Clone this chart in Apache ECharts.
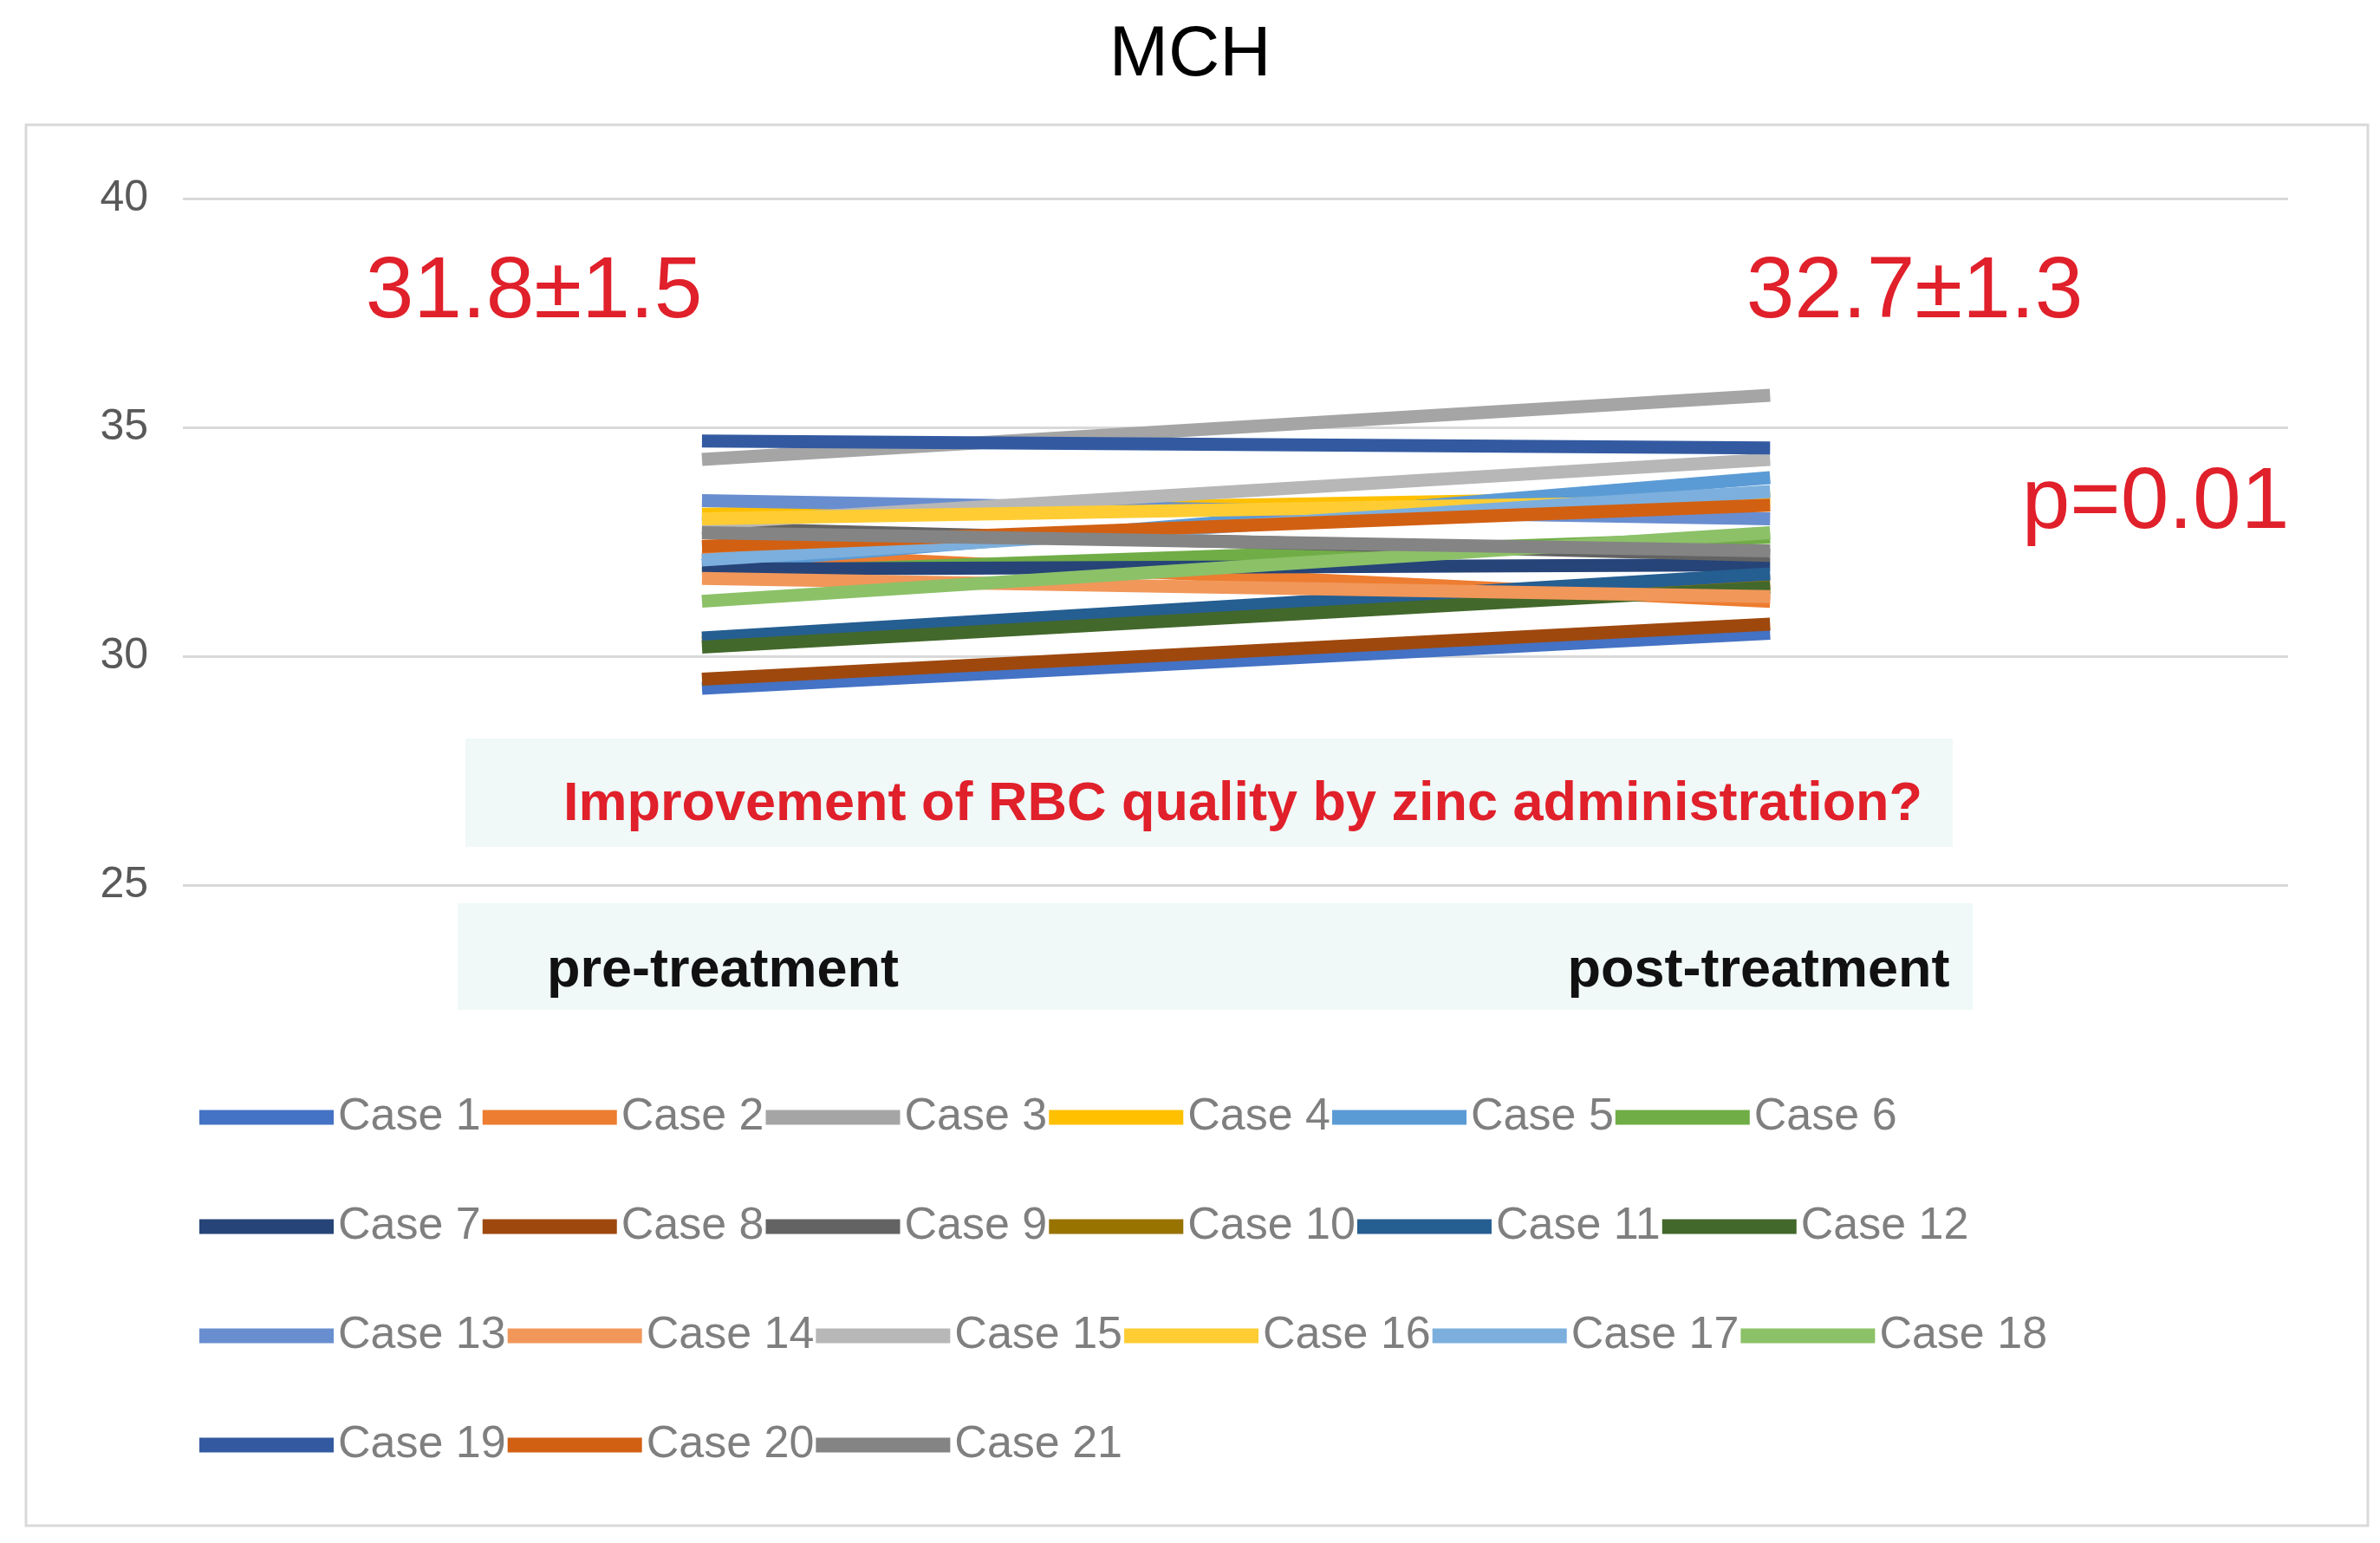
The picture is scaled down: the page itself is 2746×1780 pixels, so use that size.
<!DOCTYPE html>
<html><head><meta charset="utf-8">
<script src="https://cdn.jsdelivr.net/npm/echarts@6/dist/echarts.min.js"></script>
<style>html,body{margin:0;padding:0;background:#fff}#c{width:2746px;height:1780px}</style>
</head><body><div id="c"></div>
<script>
const caseNames = Array.from({length:21},(_, i)=>'Case '+(i+1));
const preValues  = [29.3,32.3,34.3,33.1,32.0,31.8,31.9,29.5,32.8,30.3,30.4,30.2,33.4,31.7,32.9,33.0,32.1,31.2,34.7,32.4,32.7];
const postValues = [30.5,31.2,35.7,33.5,33.9,32.6,32.0,30.7,32.2,31.6,31.8,31.5,33.0,31.3,34.3,33.4,33.6,32.7,34.55,33.3,32.3];
const colors = ['#4472C4','#ED7D31','#A5A5A5','#FFC000','#5B9BD5','#70AD47','#264478','#9E480E','#636363','#997300','#255E91','#43682B','#698ED0','#F1975A','#B7B7B7','#FFCD33','#7CAFDD','#8CC168','#335AA1','#D26012','#848484'];
const yTicks = [25,30,35,40];

const chart = echarts.init(document.getElementById('c'));
const series = caseNames.map((n,i)=>({
  name:n, type:'line', symbol:'none', data:[[0,preValues[i]],[1,postValues[i]]],
  lineStyle:{width:15,color:colors[i]}, itemStyle:{color:colors[i]}
}));
const rows=[0,6,12,18];
const legends = rows.map((s,r)=>({
  data:caseNames.slice(s,s+6), left:225, top:1258+r*126, itemWidth:155, itemHeight:17, itemGap:2,
  icon:'rect', formatter:'{a|{name}}',
  textStyle:{rich:{a:{fontSize:52,color:'#7f7f7f',width:230,fontFamily:'Liberation Sans'}}}
}));
const red='#e0202a';
chart.setOption({
  animation:false,
  color:colors,
  title:{text:'MCH',left:'center',top:18,textStyle:{fontSize:82,fontWeight:'normal',color:'#000',fontFamily:'Liberation Sans'}},
  grid:{left:211,right:106,top:229,height:792},
  xAxis:{type:'value',min:-0.486,max:1.485,show:false},
  yAxis:{type:'value',min:yTicks[0],max:yTicks[yTicks.length-1],interval:5,
    axisLine:{show:false},axisTick:{show:false},
    axisLabel:{fontSize:50,color:'#595959',margin:40,fontFamily:'Liberation Sans'},
    splitLine:{lineStyle:{color:'#d9d9d9',width:3}}},
  legend:legends,
  graphic:[
    {type:'rect',z:-10,shape:{x:30,y:144,width:2702,height:1616},style:{fill:'none',stroke:'#d9d9d9',lineWidth:3}},
    {type:'rect',z:-5,shape:{x:537,y:852,width:1716,height:125},style:{fill:'#f0f8f8'}},
    {type:'rect',z:-5,shape:{x:528,y:1042,width:1748,height:123},style:{fill:'#f0f8f8'}},
    {type:'text',style:{text:'Improvement of RBC quality by zinc administration?',x:1434,y:929,align:'center',verticalAlign:'middle',fontSize:63,fontWeight:'bold',fill:red,fontFamily:'Liberation Sans'}},
    {type:'text',style:{text:'pre-treatment',x:834,y:1121,align:'center',verticalAlign:'middle',fontSize:63,fontWeight:'bold',fill:'#111',fontFamily:'Liberation Sans'}},
    {type:'text',style:{text:'post-treatment',x:2029,y:1121,align:'center',verticalAlign:'middle',fontSize:63,fontWeight:'bold',fill:'#111',fontFamily:'Liberation Sans'}},
    {type:'text',style:{text:'31.8±1.5',x:616,y:338,align:'center',verticalAlign:'middle',fontSize:100,fill:red,fontFamily:'Liberation Sans Narrow, Liberation Sans'}},
    {type:'text',style:{text:'32.7±1.3',x:2209,y:338,align:'center',verticalAlign:'middle',fontSize:100,fill:red,fontFamily:'Liberation Sans Narrow, Liberation Sans'}},
    {type:'text',style:{text:'p=0.01',x:2487,y:581,align:'center',verticalAlign:'middle',fontSize:100,fill:red,fontFamily:'Liberation Sans Narrow, Liberation Sans'}}
  ],
  series
});
</script></body></html>
